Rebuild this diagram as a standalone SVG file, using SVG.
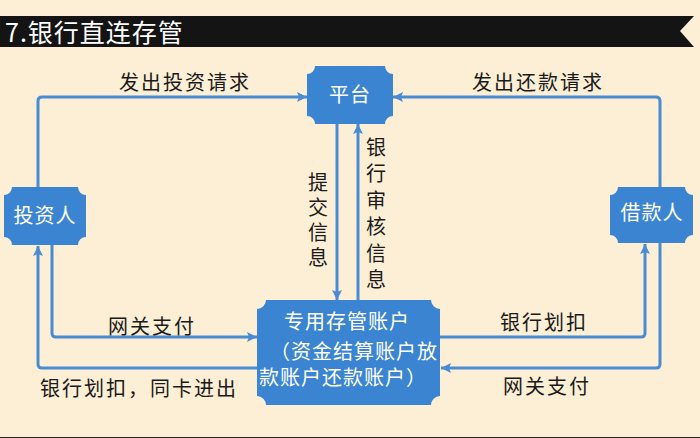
<svg xmlns="http://www.w3.org/2000/svg" width="700" height="438" viewBox="0 0 700 438">
<defs>
<style>
.bg{fill:#fcefd5}
.node{fill:#3b84d1}
.ntxt{fill:#ffffff;font-family:"Noto Sans CJK SC","Noto Sans",sans-serif;font-size:20px;text-anchor:middle;letter-spacing:1px}
.lbl{fill:#1a1a1a;font-family:"Noto Sans CJK SC","Noto Sans",sans-serif;font-size:20px;letter-spacing:2px}
.mid{text-anchor:middle}
.vl{fill:#1a1a1a;font-family:"Noto Sans CJK SC","Noto Sans",sans-serif;font-size:20px;writing-mode:vertical-rl;text-orientation:upright}
.line{fill:none;stroke:#4a8cd4;stroke-width:3;marker-end:url(#arr)}
</style>
<marker id="arr" markerUnits="userSpaceOnUse" markerWidth="12" markerHeight="12" refX="11" refY="6" orient="auto">
<path d="M1,1 L11,6 L1,11 L3,6 Z" fill="#4a8cd4"/>
</marker>
</defs>
<rect class="bg" x="0" y="0" width="700" height="438"/>
<g id="title">
<path d="M0,16 H694 L680,31 L694,47 H0 Z" fill="#141414"/>
<text x="5" y="42" fill="#ffffff" font-family="Noto Sans CJK SC, Noto Sans, sans-serif" font-size="25" letter-spacing="1">7.银行直连存管</text>
</g>
<g id="connectors">
<path class="line" d="M38,187 V101 Q38,97 42,97 H307"/>
<path class="line" d="M660,187 V101 Q660,97 656,97 H393"/>
<path class="line" d="M337,124 V300"/>
<path class="line" d="M358,300 V124"/>
<path class="line" d="M52,245 V333 Q52,337 56,337 H257"/>
<path class="line" d="M257,368 H42 Q38,368 38,364 V246"/>
<path class="line" d="M440,337 H641 Q645,337 645,333 V244"/>
<path class="line" d="M660,243 V364 Q660,368 656,368 H441"/>
<text class="lbl mid" x="185" y="90">发出投资请求</text>
<text class="lbl mid" x="538" y="90">发出还款请求</text>
<text class="vl" x="318" y="172" letter-spacing="5">提交信息</text>
<text class="vl" x="376" y="137" letter-spacing="6.5">银行审核信息</text>
<text class="lbl mid" x="152" y="334">网关支付</text>
<text class="lbl" x="40" y="396">银行划扣，同卡进出</text>
<text class="lbl mid" x="544" y="330">银行划扣</text>
<text class="lbl mid" x="547" y="394">网关支付</text>
</g>
<g id="platform">
<path class="node" d="M315,66 H385 A8 8 0 0 0 393,74 V116 A8 8 0 0 0 385,124 H315 A8 8 0 0 0 307,116 V74 A8 8 0 0 0 315,66 Z"/>
<text class="ntxt" x="350" y="102">平台</text>
</g>
<g id="investor">
<path class="node" d="M12,187 H78 A8 8 0 0 0 86,195 V237 A8 8 0 0 0 78,245 H12 A8 8 0 0 0 4,237 V195 A8 8 0 0 0 12,187 Z"/>
<text class="ntxt" x="45" y="223">投资人</text>
</g>
<g id="borrower">
<path class="node" d="M618,187 H685 A8 8 0 0 0 693,195 V235 A8 8 0 0 0 685,243 H618 A8 8 0 0 0 610,235 V195 A8 8 0 0 0 618,187 Z"/>
<text class="ntxt" x="652" y="220">借款人</text>
</g>
<g id="custody">
<path class="node" d="M266,300 H431 A9 9 0 0 0 440,309 V396 A9 9 0 0 0 431,405 H266 A9 9 0 0 0 257,396 V309 A9 9 0 0 0 266,300 Z"/>
<text class="ntxt" x="347" y="329">专用存管账户</text>
<text class="ntxt" x="354" y="359">（资金结算账户放</text>
<text class="ntxt" x="343" y="385">款账户还款账户）</text>
</g>
<rect x="0" y="437" width="700" height="1" fill="#222"/>
</svg>
